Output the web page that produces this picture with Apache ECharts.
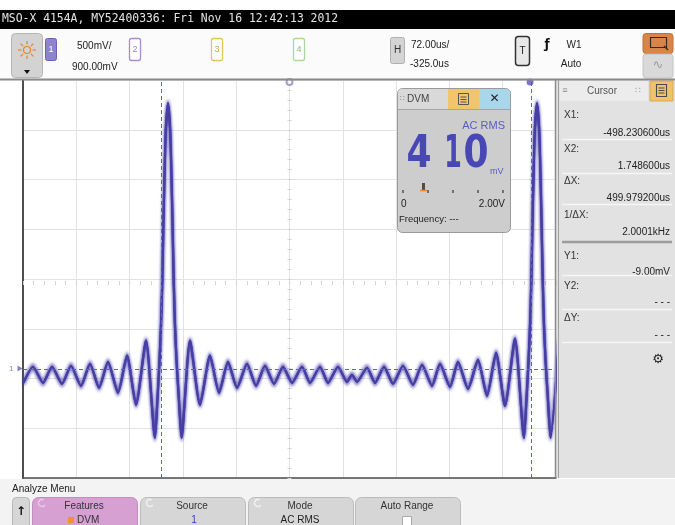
<!DOCTYPE html>
<html>
<head>
<meta charset="utf-8">
<title>MSO-X 4154A</title>
<script src="https://cdn.jsdelivr.net/npm/echarts@6/dist/echarts.min.js"></script>
<style>
  html, body { margin: 0; padding: 0; background: #ffffff; }
  #chart { width: 675px; height: 525px; }
</style>
</head>
<body>
<div id="chart"></div>
<script>
// ---- scope settings ----
const V_SCALE = 0.5;      // V/div  (500mV/)
const V_OFFSET = 0.9;     // V at screen centre (900.00mV)
const H_SCALE = 72;       // us/div (72.00us/)
const H_DELAY = -325;     // us at screen centre (-325.0us)
const H_DIVS = 10;
const V_DIVS = 8;

// ---- channel 1 trace: time (us) and voltage (V) ----
const traceTimeUs = [
  -684.5, -671.5, -658.0, -645.8, -632.3, -620.2, -606.7, -594.5, -582.3, -570.2, -556.7, -544.5, -532.4, -518.8, -506.7,
  -503.3, -500.6, -498.6, -496.8, -495.5, -494.0, -492.1, -489.1, -486.2, -484.3, -482.8, -481.4, -479.7, -477.6, -474.5, -470.9,
  -459.4, -445.9, -432.4, -420.2, -408.1, -395.9, -382.4, -370.2, -358.1, -345.9, -333.8, -321.6, -308.1, -297.3, -283.8, -273.0,
  -259.5, -247.3, -240.6, -233.8, -220.3, -209.5, -197.3, -185.2, -171.7, -158.2, -146.0, -132.5, -121.7, -108.2, -97.4, -83.9,
  -70.4, -58.2, -46.0, -33.9, -20.4, -8.2,
  -4.8, -2.1, -0.1, 1.7, 3.0, 4.5, 6.4, 9.4, 12.3, 14.2, 15.7, 17.1, 18.8, 20.9, 24.0, 27.6, 39.1
];
const traceVolts = [
  -0.143, 0.018, -0.143, 0.018, -0.153, 0.028, -0.174, 0.048, -0.194, 0.068, -0.244, 0.129, -0.365, 0.280, -0.698,
  -0.295, 0.078, 0.431, 0.885, 1.389, 1.893, 2.397, 2.669, 2.397, 1.893, 1.389, 0.885, 0.431, 0.078, -0.295, -0.698,
  0.280, -0.365, 0.129, -0.244, 0.068, -0.194, 0.048, -0.174, 0.028, -0.153, 0.018, -0.143, 0.018, -0.143, 0.018, -0.143,
  0.018, -0.133, -0.063, -0.133, 0.008, -0.143, 0.018, -0.153, 0.028, -0.164, 0.038, -0.174, 0.048, -0.184, 0.068, -0.204,
  0.088, -0.274, 0.159, -0.375, 0.300, -0.698,
  -0.295, 0.078, 0.431, 0.885, 1.389, 1.893, 2.397, 2.669, 2.397, 1.893, 1.389, 0.885, 0.431, 0.078, -0.295, -0.698, 0.280
];

// ---- cursors / markers ----
const cursorXUs = [-498.2306, 1.7486];   // X1, X2
const cursorYVolts = [-0.009];            // Y1
const triggerTimeUs = 0;
const groundVolts = 0;

// ---- text content ----
const titleText = 'MSO-X 4154A, MY52400336: Fri Nov 16 12:42:13 2012';
const cursorLabels = ['X1:', 'X2:', '\u0394X:', '1/\u0394X:', 'Y1:', 'Y2:', '\u0394Y:'];
const cursorValues = ['-498.230600us', '1.748600us', '499.979200us', '2.0001kHz', '-9.00mV', '- - -', '- - -'];
const dvmDigits = ['4', '1', '0'];
const softkeyTitles = ['Features', 'Source', 'Mode', 'Auto Range'];
const softkeyValues = ['DVM', '1', 'AC RMS', ''];

// convert to screen divisions
const toXDiv = t => (t - H_DELAY) / H_SCALE;
const toYDiv = v => (v - V_OFFSET) / V_SCALE;
const traceData = traceTimeUs.map((t, i) => [toXDiv(t), toYDiv(traceVolts[i])]);

const UI = "'Liberation Sans', Arial, sans-serif";
const G = [];
function R(x, y, w, h, fill, stroke, lw, r, z) {
  G.push({ type: 'rect', silent: true, z: z || 10, shape: { x, y, width: w, height: h, r: r || 0 },
    style: { fill: fill || 'none', stroke: stroke || 'none', lineWidth: lw || 1 } });
}
function L(x1, y1, x2, y2, stroke, lw, z, dash) {
  G.push({ type: 'line', silent: true, z: z || 10, shape: { x1, y1, x2, y2 },
    style: { stroke, lineWidth: lw || 1, lineDash: dash || null } });
}
function P(points, fill, stroke, lw, z) {
  G.push({ type: 'polygon', silent: true, z: z || 10, shape: { points },
    style: { fill: fill || 'none', stroke: stroke || 'none', lineWidth: lw || 1 } });
}
function T(x, y, s, size, color, align, weight, family, z, extra) {
  const el = { type: 'text', silent: true, z: z || 11, x, y,
    style: { text: s, fill: color || '#222', font: (weight || 'normal') + ' ' + size + 'px ' + (family || UI),
      align: align || 'left', verticalAlign: 'middle', textAlign: align || 'left', textVerticalAlign: 'middle' } };
  if (extra) Object.assign(el, extra);
  G.push(el);
}

// title bar
R(0, 10, 675, 19, '#000000', null, 1, 0, 5);
T(2, 19.5, titleText, 11.4, '#e4e4e4', 'left', 'normal', "'DejaVu Sans Mono', monospace");

// toolbar
R(0, 29, 675, 50, '#fbfbfb', null, 1, 0, 4);
L(0, 79.5, 675, 79.5, '#8a8a8a', 2, 12);
// brightness button
R(11.5, 33.5, 31, 44, '#d3d3d3', '#b5b5b5', 1, 4);
G.push({ type: 'circle', silent: true, z: 11, shape: { cx: 27, cy: 50, r: 3.5 }, style: { fill: 'none', stroke: '#e8862a', lineWidth: 1.2 } });
for (let k = 0; k < 8; k++) {
  const a = k * Math.PI / 4;
  L(27 + Math.cos(a) * 5.5, 50 + Math.sin(a) * 5.5, 27 + Math.cos(a) * 9, 50 + Math.sin(a) * 9, '#e8862a', 1.2, 11);
}
P([[24, 70], [30, 70], [27, 74]], '#111');
// channel boxes
R(45.5, 38.5, 11, 22, '#8d84cc', '#6c62b4', 1, 2);
T(51, 49.5, '1', 9, '#ffffff', 'center');
T(77, 46, '500mV/', 10, '#222');
T(72, 67, '900.00mV', 10, '#222');
R(129.5, 38.5, 11, 22, '#ffffff', '#a78cd2', 1.3, 2);
T(135, 49.5, '2', 9, '#9b82c8', 'center');
R(211.5, 38.5, 11, 22, '#ffffff', '#e2c457', 1.3, 2);
T(217, 49.5, '3', 9, '#c9a844', 'center');
R(293.5, 38.5, 11, 22, '#ffffff', '#a9d89a', 1.3, 2);
T(299, 49.5, '4', 9, '#86b877', 'center');
// horizontal
R(390.5, 37.5, 14, 26, '#d4d4d4', '#b0b0b0', 1, 2);
T(397.5, 50.5, 'H', 10, '#333', 'center');
T(411, 45, '72.00us/', 10, '#222');
T(410, 64, '-325.0us', 10, '#222');
// trigger
R(515.5, 36.5, 14, 29, '#e8e8e8', '#333', 1.5, 3);
T(522.5, 51, 'T', 10, '#222', 'center');
T(547, 45, '\u0192', 12, '#111', 'center', 'bold', "'DejaVu Sans', sans-serif");
T(574, 45, 'W1', 10, '#222', 'center');
T(571, 64, 'Auto', 10, '#222', 'center');
// zoom / run buttons
R(643, 33.5, 30, 20, '#d98548', '#c27038', 1, 3);
R(650.5, 37.5, 16, 10, 'none', '#3a2a1e', 1.2, 0, 12);
L(664, 46, 668, 50, '#3a2a1e', 1.5, 12);
R(643, 54, 30, 24, '#d9d9d9', '#c4c4c4', 1, 3);
T(658, 66, '\u223F', 13, '#9a9a9a', 'center', 'normal', "'DejaVu Sans', sans-serif");

// right cursor panel
R(557, 80, 118, 398, '#e2e2e2', null, 1, 0, 4);
L(555.5, 80, 555.5, 478, '#8c8c8c', 1.5, 12);
L(558.5, 80, 558.5, 478, '#a0a0a0', 1, 12);
R(560, 81, 88, 20, '#ececec', null, 1, 0, 5);
T(565, 91, '\u2261', 9, '#888', 'center');
T(587, 91.5, 'Cursor', 10, '#555');
T(638, 91, '\u2237', 9, '#999', 'center', 'normal', "'DejaVu Sans', sans-serif");
R(650, 81, 23, 20, '#f1c26c', '#d8a850', 1, 0, 5);
R(656.5, 84.5, 10, 12, 'none', '#4a4a4a', 1.1, 0, 11);
L(658.5, 88, 664.5, 88, '#4a4a4a', 1, 11);
L(658.5, 90.5, 664.5, 90.5, '#4a4a4a', 1, 11);
L(658.5, 93, 664.5, 93, '#4a4a4a', 1, 11);
const labelY = [115, 149, 181, 215, 256, 286, 318];
const valueY = [133, 166, 198, 232, 272, 302, 335];
const sepY = [139, 173, 204, 275, 309, 342];
for (let i = 0; i < cursorLabels.length; i++) {
  T(564, labelY[i], cursorLabels[i], 10, '#333');
  T(670, valueY[i], cursorValues[i], 10, '#222', 'right');
}
sepY.forEach(y => L(562, y + 0.5, 672, y + 0.5, '#f6f6f6', 1.5, 11));
L(562, 242, 672, 242, '#9c9c9c', 2.5, 11);
T(658, 360, '\u2699', 13, '#222', 'center', 'bold', "'DejaVu Sans', sans-serif");

// DVM window
const DZ = 60;
R(397.5, 88.5, 113, 144, '#cdcdcd', '#9a9a9a', 1, 5, DZ);
R(398, 89, 50, 20, '#d9d9d9', null, 1, [4, 0, 0, 0], DZ);
R(448, 89, 31, 20, '#f2c46b', null, 1, 0, DZ);
R(479, 89, 31, 20, '#a9d6ea', null, 1, [0, 4, 0, 0], DZ);
L(398, 109.5, 510, 109.5, '#a5a5a5', 1, DZ + 1);
T(400, 99, '\u2237', 8, '#888', 'left', 'normal', "'DejaVu Sans', sans-serif", DZ + 1);
T(407, 99, 'DVM', 10, '#444', 'left', 'normal', UI, DZ + 1);
R(458.5, 93.5, 10, 11, 'none', '#555', 1, 0, DZ + 1);
L(460.5, 97, 466.5, 97, '#555', 1, DZ + 1);
L(460.5, 99.5, 466.5, 99.5, '#555', 1, DZ + 1);
L(460.5, 102, 466.5, 102, '#555', 1, DZ + 1);
T(494.5, 99, '\u2715', 12, '#222', 'center', 'bold', "'DejaVu Sans', sans-serif", DZ + 1);
T(505, 126, 'AC RMS', 11, '#5b5bc4', 'right', 'normal', UI, DZ + 1);
const digitX = [419, 453, 476];
dvmDigits.forEach((d, i) => {
  T(digitX[i], 155, d, 36, '#4747b6', 'center', 'bold', "'DejaVu Sans', sans-serif", DZ + 1,
    { scaleX: i === 1 ? 0.7 : 1, scaleY: 1.25, originX: 0, originY: 0 });
});
T(490, 172, 'mV', 9, '#5b5bc4', 'left', 'normal', UI, DZ + 1);
[403, 428, 453, 478, 503].forEach(x => L(x, 190, x, 193, '#333', 1.2, DZ + 1));
R(422, 183, 3, 7, '#5a4a3a', null, 1, 0, DZ + 1);
L(420, 190.5, 427, 190.5, '#f08a30', 1.5, DZ + 2);
T(401, 204, '0', 10, '#222', 'left', 'normal', UI, DZ + 1);
T(505, 204, '2.00V', 10, '#222', 'right', 'normal', UI, DZ + 1);
T(399, 219, 'Frequency: ---', 9.5, '#222', 'left', 'normal', UI, DZ + 1);

// analyze menu
R(0, 479, 675, 46, '#f3f3f3', null, 1, 0, 4);
T(12, 489.5, 'Analyze Menu', 10, '#222');
R(12.5, 497.5, 17, 30, '#d6d6d6', '#b8b8b8', 1, [4, 4, 0, 0]);
T(21, 512, '\u2191', 12, '#111', 'center', 'bold', "'DejaVu Sans', sans-serif");
const keyX = [32, 140, 248, 355];
keyX.forEach((x, i) => {
  R(x + 0.5, 497.5, 105, 30, i === 0 ? '#d6a0d3' : '#d6d6d6', i === 0 ? '#c48cc0' : '#bcbcbc', 1, [6, 6, 0, 0]);
  T(x + 52, 506, softkeyTitles[i], 10, '#333', 'center');
  if (i < 3) {
    G.push({ type: 'arc', silent: true, z: 11, shape: { cx: x + 10, cy: 503, r: 3.5, startAngle: 0.6, endAngle: 5.2 },
      style: { stroke: i === 0 ? '#e8c8e6' : '#f0f0f0', lineWidth: 1.5, fill: 'none' } });
  }
});
R(68, 517, 6, 6, '#f09038', null, 1, 0, 12);
T(77, 520.5, softkeyValues[0], 10, '#333', 'left');
T(194, 520.5, softkeyValues[1], 10, '#3a3ac0', 'center');
T(300, 520.5, softkeyValues[2], 10, '#222', 'center');
R(402.5, 516.5, 9, 10, '#ffffff', '#aaaaaa', 1, 0, 12);

const chart = echarts.init(document.getElementById('chart'), null, { renderer: 'canvas' });
const gridColor = '#e2e2e2';
const dashColor = '#5f5fc6';
const traceColor = '#463ea4';

// the trace is drawn twice with its glow pushed up and down, giving the thick persistence band
const traceSeries = (dy, extra) => Object.assign({
  type: 'line',
  data: traceData,
  showSymbol: false,
  smooth: 0.2,
  clip: true,
  silent: true,
  animation: false,
  z: 3,
  lineStyle: { color: traceColor, width: 2.2, shadowColor: 'rgba(70,62,164,0.85)', shadowBlur: 3, shadowOffsetY: dy }
}, extra || {});

chart.setOption({
  animation: false,
  backgroundColor: '#ffffff',
  grid: { left: 23, top: 80, width: 533, height: 398, containLabel: false },
  xAxis: [
    { type: 'value', min: -H_DIVS / 2, max: H_DIVS / 2, interval: 1,
      axisLine: { show: true, onZero: false, lineStyle: { color: '#4e4e4e', width: 1.5 } },
      axisTick: { show: false }, axisLabel: { show: false },
      splitLine: { show: true, lineStyle: { color: gridColor, width: 1 } } },
    { type: 'value', min: -H_DIVS / 2, max: H_DIVS / 2, interval: 0.2, position: 'bottom', offset: -201,
      axisLine: { show: false }, axisLabel: { show: false }, splitLine: { show: false },
      axisTick: { show: true, length: 4, lineStyle: { color: '#d2d2d2' } } }
  ],
  yAxis: [
    { type: 'value', min: -V_DIVS / 2, max: V_DIVS / 2, interval: 1,
      axisLine: { show: true, onZero: false, lineStyle: { color: '#4e4e4e', width: 2 } },
      axisTick: { show: false }, axisLabel: { show: false },
      splitLine: { show: true, lineStyle: { color: gridColor, width: 1 } } },
    { type: 'value', min: -V_DIVS / 2, max: V_DIVS / 2, interval: 0.2, position: 'left', offset: -268.5,
      axisLine: { show: false }, axisLabel: { show: false }, splitLine: { show: false },
      axisTick: { show: true, length: 4, lineStyle: { color: '#d2d2d2' } } }
  ],
  graphic: { elements: G },
  series: [
    traceSeries(2.3, {
      markLine: {
        silent: true, symbol: 'none', animation: false,
        label: { show: false },
        lineStyle: { color: dashColor, type: [4, 3], width: 1 },
        data: cursorXUs.map(t => ({ xAxis: toXDiv(t) })).concat(cursorYVolts.map(v => ({ yAxis: toYDiv(v) })))
      }
    }),
    traceSeries(-2.3),
    {
      type: 'scatter', silent: true, clip: false, z: 6,
      data: [[toXDiv(triggerTimeUs), V_DIVS / 2]],
      symbol: 'circle', symbolSize: 7, symbolOffset: [0, 2],
      itemStyle: { color: '#5a52b8' }
    },
    {
      type: 'scatter', silent: true, clip: false, z: 6,
      data: [[0, V_DIVS / 2]],
      symbol: 'emptyCircle', symbolSize: 6, symbolOffset: [0, 2],
      itemStyle: { color: '#8a86c4', borderWidth: 1 }
    },
    {
      type: 'scatter', silent: true, clip: false, z: 6,
      data: [[-H_DIVS / 2, toYDiv(groundVolts)]],
      symbol: 'triangle', symbolSize: [6, 5], symbolRotate: -90, symbolOffset: [-3, 0],
      itemStyle: { color: '#6b63b8' },
      label: { show: true, position: 'left', distance: 4, formatter: '1', fontSize: 8, color: '#6b63b8', fontFamily: UI }
    }
  ]
});
</script>
</body>
</html>
